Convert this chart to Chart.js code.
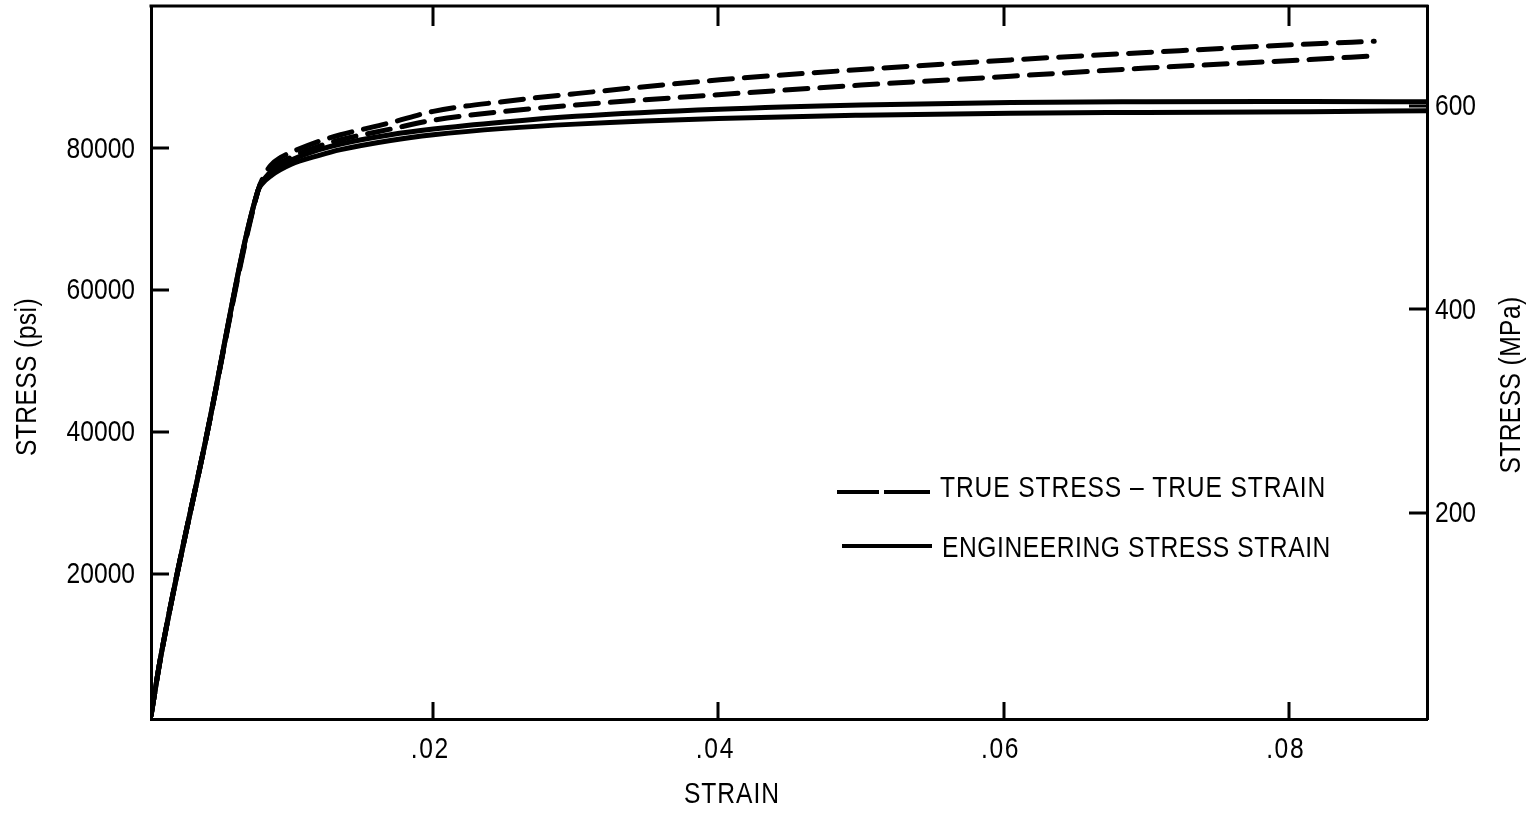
<!DOCTYPE html>
<html>
<head>
<meta charset="utf-8">
<script src="https://cdn.jsdelivr.net/npm/chart.js@4.4.0/dist/chart.umd.min.js"></script>
<style>
  html, body { margin: 0; padding: 0; background: #fff; }
  #wrap { width: 1533px; height: 820px; }
</style>
</head>
<body>
<div id="wrap"><canvas id="c" width="1533" height="820"></canvas></div>
<script>
// Strain (in/in) and stress (psi) for the two specimens
const trueUpperStrain = [0.0002, 0.0009, 0.0040, 0.0077, 0.0081, 0.0086, 0.0093, 0.0100, 0.0120, 0.0135, 0.0170, 0.0200, 0.0250, 0.0300, 0.0401, 0.0500, 0.0605, 0.0700, 0.0815, 0.0860];
const trueUpperPsi    = [0, 8500, 38500, 74000, 76000, 77600, 78700, 79400, 81000, 81900, 83600, 85200, 86600, 87700, 89650, 91100, 92450, 93500, 94700, 95070];

const trueLowerStrain = [0.0002, 0.0009, 0.0040, 0.0077, 0.0082, 0.0088, 0.0100, 0.0120, 0.0135, 0.0170, 0.0200, 0.0250, 0.0300, 0.0400, 0.0500, 0.0605, 0.0700, 0.0815, 0.0862];
const trueLowerPsi    = [0, 8500, 38500, 74000, 76000, 77300, 78700, 80300, 81200, 82700, 83950, 85200, 86100, 87550, 88900, 90150, 91300, 92500, 93050];

const engUpperStrain  = [0.0002, 0.0009, 0.0040, 0.0077, 0.0082, 0.0088, 0.0100, 0.0120, 0.0135, 0.0170, 0.0200, 0.0250, 0.0300, 0.0400, 0.0500, 0.0605, 0.0700, 0.0815, 0.0897];
const engUpperPsi     = [0, 8500, 38500, 74000, 75800, 77000, 78300, 79800, 80600, 81900, 82700, 83700, 84500, 85500, 86100, 86450, 86550, 86590, 86550];

const engLowerStrain  = [0.0002, 0.0009, 0.0040, 0.0077, 0.0080, 0.0086, 0.0100, 0.0120, 0.0135, 0.0170, 0.0200, 0.0250, 0.0300, 0.0400, 0.0500, 0.0605, 0.0700, 0.0815, 0.0897];
const engLowerPsi     = [0, 8500, 38500, 74000, 75000, 76100, 77700, 79000, 79800, 81100, 81900, 82800, 83400, 84200, 84650, 84950, 85050, 85150, 85300];

// Axis ticks and labels
const strainTicks = [0.02, 0.04, 0.06, 0.08];
const psiTicks = [20000, 40000, 60000, 80000];
const mpaTicks = [200, 400, 600];
const legendLabels = ['TRUE STRESS \u2013 TRUE STRAIN', 'ENGINEERING STRESS STRAIN'];
const xTitle = 'STRAIN';
const yTitle = 'STRESS (psi)';
const y2Title = 'STRESS (MPa)';

const pairs = (xs, ys) => xs.map((x, i) => ({ x, y: ys[i] }));

const INK = '#000';
const FONT = "30px 'Liberation Sans', Arial, sans-serif";
const SQUEEZE = 0.82;   // narrow face: regular glyphs compressed horizontally

const solid = (label, xs, ys) => ({
  label, data: pairs(xs, ys), borderColor: INK, borderWidth: 5,
  pointRadius: 0, fill: false, cubicInterpolationMode: 'monotone',
  borderCapStyle: 'round', borderJoinStyle: 'round'
});
const dashed = (label, xs, ys) => Object.assign(solid(label, xs, ys), { borderDash: [23, 12] });

function narrowText(ctx, text, x, y, align, spacing, rot) {
  ctx.save();
  ctx.translate(x, y);
  if (rot) ctx.rotate(rot);
  ctx.scale(SQUEEZE, 1);
  ctx.textAlign = align;
  ctx.textBaseline = 'middle';
  ctx.letterSpacing = spacing + 'px';
  ctx.fillText(text, 0, 0);
  ctx.restore();
}

const frame = {
  id: 'frame',
  afterDraw(chart) {
    const { ctx, chartArea: a, scales } = chart;
    const { x, y, y2 } = scales;
    ctx.save();
    ctx.strokeStyle = INK;
    ctx.fillStyle = INK;
    ctx.lineWidth = 3;
    ctx.lineCap = 'butt';
    ctx.beginPath();
    // top edge of the plot box
    ctx.moveTo(a.left - 1.5, a.top);
    ctx.lineTo(a.right + 1.5, a.top);
    // inward tick marks
    x.ticks.forEach(t => {
      const p = Math.round(x.getPixelForValue(t.value));
      ctx.moveTo(p, a.bottom); ctx.lineTo(p, a.bottom - 17);
      ctx.moveTo(p, a.top); ctx.lineTo(p, a.top + 20);
    });
    y.ticks.forEach(t => {
      const p = Math.round(y.getPixelForValue(t.value));
      ctx.moveTo(a.left, p); ctx.lineTo(a.left + 18, p);
    });
    y2.ticks.forEach(t => {
      const p = Math.round(y2.getPixelForValue(t.value));
      ctx.moveTo(a.right, p); ctx.lineTo(a.right - 18, p);
    });
    ctx.stroke();

    ctx.font = FONT;
    // tick labels
    x.ticks.forEach(t => {
      narrowText(ctx, '.' + t.value.toFixed(2).slice(2), x.getPixelForValue(t.value) - 3, 750, 'center', 2);
    });
    y.ticks.forEach(t => {
      narrowText(ctx, String(t.value), a.left - 16, y.getPixelForValue(t.value) + 1, 'right', 0);
    });
    y2.ticks.forEach(t => {
      narrowText(ctx, String(t.value), a.right + 8, y2.getPixelForValue(t.value) + 1, 'left', 0);
    });

    // axis titles
    narrowText(ctx, xTitle, 732, 795, 'center', 1.2);
    narrowText(ctx, yTitle, 28, 377, 'center', 0.5, -Math.PI / 2);
    narrowText(ctx, y2Title, 1512, 385, 'center', 0.5, -Math.PI / 2);

    // legend
    ctx.lineWidth = 4;
    ctx.beginPath();
    ctx.moveTo(837, 492); ctx.lineTo(879, 492);
    ctx.moveTo(884, 492); ctx.lineTo(930, 492);
    ctx.moveTo(842, 546); ctx.lineTo(932, 546);
    ctx.stroke();
    narrowText(ctx, legendLabels[0], 940, 489, 'left', 1.1);
    narrowText(ctx, legendLabels[1], 942, 549, 'left', 0.7);
    ctx.restore();
  }
};

const axisBase = {
  grid: { display: false, drawTicks: false },
  border: { display: true, color: INK, width: 3 },
  ticks: { display: false }
};

new Chart(document.getElementById('c'), {
  type: 'line',
  data: {
    datasets: [
      solid('Engineering 1', engUpperStrain, engUpperPsi),
      solid('Engineering 2', engLowerStrain, engLowerPsi),
      dashed('True 1', trueUpperStrain, trueUpperPsi),
      dashed('True 2', trueLowerStrain, trueLowerPsi)
    ]
  },
  options: {
    responsive: false,
    animation: false,
    devicePixelRatio: 1,
    layout: { padding: { top: 6, left: 0, right: 0, bottom: 0 } },
    plugins: { legend: { display: false }, tooltip: { enabled: false } },
    scales: {
      x: Object.assign({
        type: 'linear', position: 'bottom', min: 0.0002, max: 0.0897,
        afterBuildTicks: s => { s.ticks = strainTicks.map(v => ({ value: v })); },
        afterFit: s => { s.height = 101; s.paddingLeft = 0; s.paddingRight = 0; }
      }, axisBase),
      y: Object.assign({
        type: 'linear', position: 'left', min: -450, max: 100050,
        afterBuildTicks: s => { s.ticks = psiTicks.map(v => ({ value: v })); },
        afterFit: s => { s.width = 151; s.paddingTop = 0; s.paddingBottom = 0; }
      }, axisBase),
      y2: Object.assign({
        type: 'linear', position: 'right', min: -2.5, max: 698,
        afterBuildTicks: s => { s.ticks = mpaTicks.map(v => ({ value: v })); },
        afterFit: s => { s.width = 106; s.paddingTop = 0; s.paddingBottom = 0; }
      }, axisBase)
    }
  },
  plugins: [frame]
});
</script>
</body>
</html>
